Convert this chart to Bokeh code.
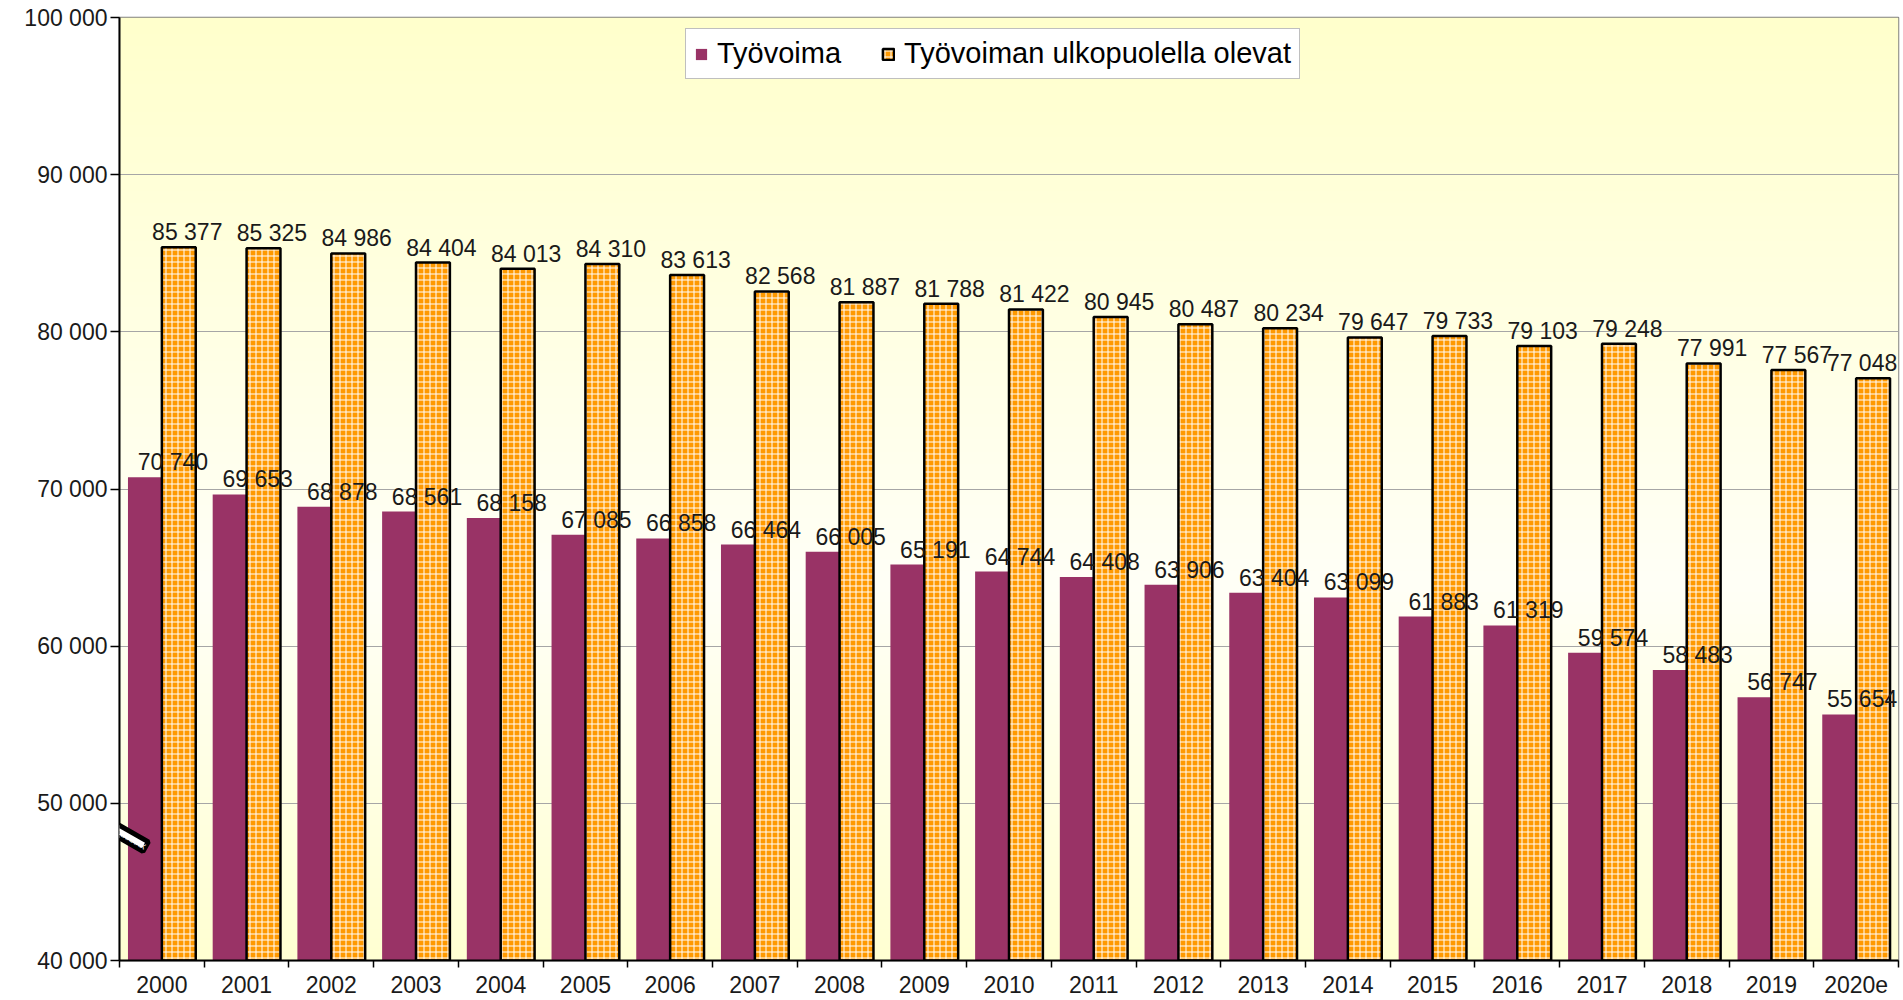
import numpy as np
from bokeh.plotting import figure
from bokeh.models import (ColumnDataSource, Range1d, FixedTicker, CustomJSTickFormatter,
                          Legend, LegendItem, Label)
from bokeh.core.properties import value
from bokeh.embed import file_html
from bokeh.resources import INLINE

# ---------------- data ----------------
years = ["2000", "2001", "2002", "2003", "2004", "2005", "2006", "2007", "2008", "2009",
         "2010", "2011", "2012", "2013", "2014", "2015", "2016", "2017", "2018", "2019", "2020e"]
tyovoima = [70740, 69653, 68878, 68561, 68158, 67085, 66858, 66464, 66005, 65191,
            64744, 64408, 63906, 63404, 63099, 61883, 61319, 59574, 58483, 56747, 55654]
ulkopuolella = [85377, 85325, 84986, 84404, 84013, 84310, 83613, 82568, 81887, 81788,
                81422, 80945, 80487, 80234, 79647, 79733, 79103, 79248, 77991, 77567, 77048]
y_ticks = [40000, 50000, 60000, 70000, 80000, 90000, 100000]
series_names = ["Työvoima", "Työvoiman ulkopuolella olevat"]

FONT = "Liberation Sans"
n = len(years)
idx = np.arange(n)


def fmt(v):
    return f"{v:,}".replace(",", " ")


src = ColumnDataSource(dict(
    x_t=idx + 0.3, x_u=idx + 0.7,
    t=tyovoima, u=ulkopuolella,
    t_lab=[fmt(v) for v in tyovoima], u_lab=[fmt(v) for v in ulkopuolella],
    x_tl=np.minimum(idx + 0.63, n - 0.43), x_ul=np.minimum(idx + 0.80, n - 0.43),
))

y0, y1 = y_ticks[0], y_ticks[-1]

p = figure(width=1900, height=1000, x_range=Range1d(0, n), y_range=Range1d(y0, y1),
           output_backend="svg", toolbar_location=None,
           min_border_left=119, min_border_right=2, min_border_top=17, min_border_bottom=40)
p.border_fill_color = "white"

# gradient background of plot area
rows = 300
f = np.linspace(1, 0, rows)  # fraction from top; row 0 is at the bottom
b = np.interp(f, [0, 0.6, 1], [204, 247, 210]).astype(np.uint8)
img = np.zeros((rows, 1), dtype=np.uint32)
view = img.view(dtype=np.uint8).reshape((rows, 1, 4))
view[:, 0, 0] = 255
view[:, 0, 1] = 255
view[:, 0, 2] = b
view[:, 0, 3] = 255
p.image_rgba(image=[img], x=0, y=y0, dw=n, dh=y1 - y0, level="image")

r1 = p.vbar(x="x_t", top="t", bottom=y0, width=0.4, source=src,
            fill_color="#993366", line_color=None)
r2 = p.vbar(x="x_u", top="u", bottom=y0, width=0.4, source=src,
            fill_color="#FF9900", line_color="black", line_width=2.5,
            hatch_pattern="+", hatch_color="white", hatch_scale=6, hatch_weight=1)

p.text(x="x_tl", y="t", text="t_lab", source=src, text_align="center", text_baseline="bottom",
       y_offset=-2, text_font=value(FONT), text_font_size="23px", text_color="#1a1a1a")
p.text(x="x_ul", y="u", text="u_lab", source=src, text_align="center", text_baseline="bottom",
       y_offset=-2, text_font=value(FONT), text_font_size="23px", text_color="#1a1a1a")

# axes
xa = p.xaxis[0]
xa.ticker = FixedTicker(ticks=list(idx + 0.5), minor_ticks=list(range(n + 1)))
xa.formatter = CustomJSTickFormatter(args=dict(labels=years),
                                     code="return labels[Math.round(tick - 0.5)];")
xa.major_tick_line_color = None
xa.major_tick_out = 7
xa.major_tick_in = 0
xa.minor_tick_out = 7
xa.minor_tick_in = 0
xa.minor_tick_line_color = "black"
xa.minor_tick_line_width = 1.5
xa.axis_line_color = "black"
xa.axis_line_width = 2
xa.major_label_text_font = FONT
xa.major_label_text_font_size = "23px"
xa.major_label_text_color = "#1a1a1a"
xa.major_label_standoff = 8

ya = p.yaxis[0]
ya.ticker = FixedTicker(ticks=y_ticks, minor_ticks=[])
ya.formatter = CustomJSTickFormatter(
    code="return tick.toFixed(0).replace(/\\B(?=(\\d{3})+(?!\\d))/g, ' ');")
ya.major_tick_out = 9
ya.major_tick_in = 0
ya.major_tick_line_color = "black"
ya.major_tick_line_width = 1.5
ya.minor_tick_line_color = None
ya.axis_line_color = "black"
ya.axis_line_width = 2
ya.major_label_text_font = FONT
ya.major_label_text_font_size = "23px"
ya.major_label_text_color = "#1a1a1a"
ya.major_label_standoff = 3

p.xgrid.grid_line_color = None
p.ygrid.ticker = FixedTicker(ticks=y_ticks)
p.ygrid.grid_line_color = "#A6A6A6"
p.ygrid.grid_line_width = 1
p.outline_line_color = "#808080"
p.outline_line_width = 1.5

# axis break mark (narrow white band with thick black edges, crossing the y axis)
p.add_layout(Label(x=-0.127, y=48590, x_units="data", y_units="data", text="x" * 17,
                   text_font_size="10px", text_color="white", text_align="center",
                   text_baseline="middle", angle=-0.52,
                   background_fill_color="white", background_fill_alpha=1,
                   border_line_color="black", border_line_width=5, padding=0))

legend = Legend(items=[LegendItem(label=series_names[0], renderers=[r1]),
                       LegendItem(label=series_names[1], renderers=[r2])],
                orientation="horizontal", location=(566, 881),
                padding=8, spacing=40, label_standoff=9, glyph_width=14, glyph_height=14,
                label_height=30, margin=0,
                label_text_font=FONT, label_text_font_size="29px", label_text_color="black",
                border_line_color="#808080", border_line_width=1.5,
                background_fill_color="white", background_fill_alpha=1)
p.add_layout(legend)

open("out.html", "w").write(file_html(p, INLINE))
